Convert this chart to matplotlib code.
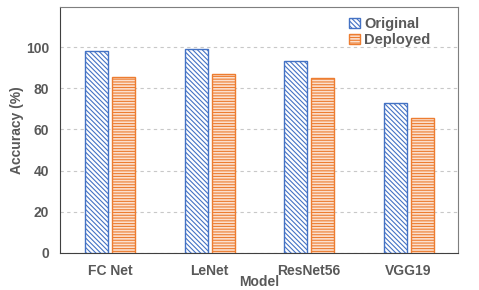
import matplotlib.pyplot as plt
import numpy as np

# datos
models = ['FC Net', 'LeNet', 'ResNet56', 'VGG19']
original = [98.1, 98.9, 93.2, 72.7]
deployed = [85.3, 86.9, 85.1, 65.7]

plt.rcParams['font.family'] = ['Liberation Sans', 'DejaVu Sans']
plt.rcParams['font.weight'] = 'bold'
plt.rcParams['hatch.linewidth'] = 0.8

gris = '#595959'
azul = '#4472C4'
naranja = '#ED7D31'

fig = plt.figure(figsize=(4.79, 2.90), dpi=100)
ax = fig.add_axes([0.126, 0.128, 0.831, 0.848])

x = np.arange(len(models))
w = 0.23
ax.bar(x - 0.135, original, w, facecolor='white', edgecolor=azul,
       hatch='\\' * 7, linewidth=1.0, label='Original', zorder=3)
ax.bar(x + 0.135, deployed, w, facecolor='#FBE0CF', edgecolor=naranja,
       hatch='-' * 6, linewidth=1.0, label='Deployed', zorder=3)

ax.set_xlim(-0.5, 3.5)
ax.set_ylim(0, 119.5)
ax.set_yticks([0, 20, 40, 60, 80, 100])
ax.set_xticks(x)
ax.set_xticklabels(models)
ax.yaxis.grid(True, linestyle=(0, (3, 3)), color='#C8C8C8', linewidth=0.8, zorder=0)
ax.tick_params(length=0, labelsize=10, colors=gris, pad=8)
for lab in ax.get_xticklabels() + ax.get_yticklabels():
    lab.set_fontweight('bold')

ax.spines['left'].set_color('#404040')
ax.spines['bottom'].set_color('#404040')
ax.spines['top'].set_color('#7F7F7F')
ax.spines['right'].set_color('#7F7F7F')

ax.set_ylabel('Accuracy (%)', fontsize=10, color=gris, fontweight='bold')
ax.set_xlabel('Model', fontsize=10, color=gris, fontweight='bold')
ax.yaxis.set_label_coords(-0.11, 0.5)
ax.xaxis.set_label_coords(0.5, -0.118)
ax.xaxis.label.set_va('center')
ax.yaxis.label.set_va('center')

leg = ax.legend(loc='upper right', bbox_to_anchor=(0.955, 1.0), frameon=False,
                fontsize=10.5, handlelength=0.7, handleheight=0.7,
                handletextpad=0.3, labelspacing=0.15, borderaxespad=0.3)
for t in leg.get_texts():
    t.set_color(gris)
    t.set_fontweight('bold')

fig.savefig('out.png', dpi=100)
